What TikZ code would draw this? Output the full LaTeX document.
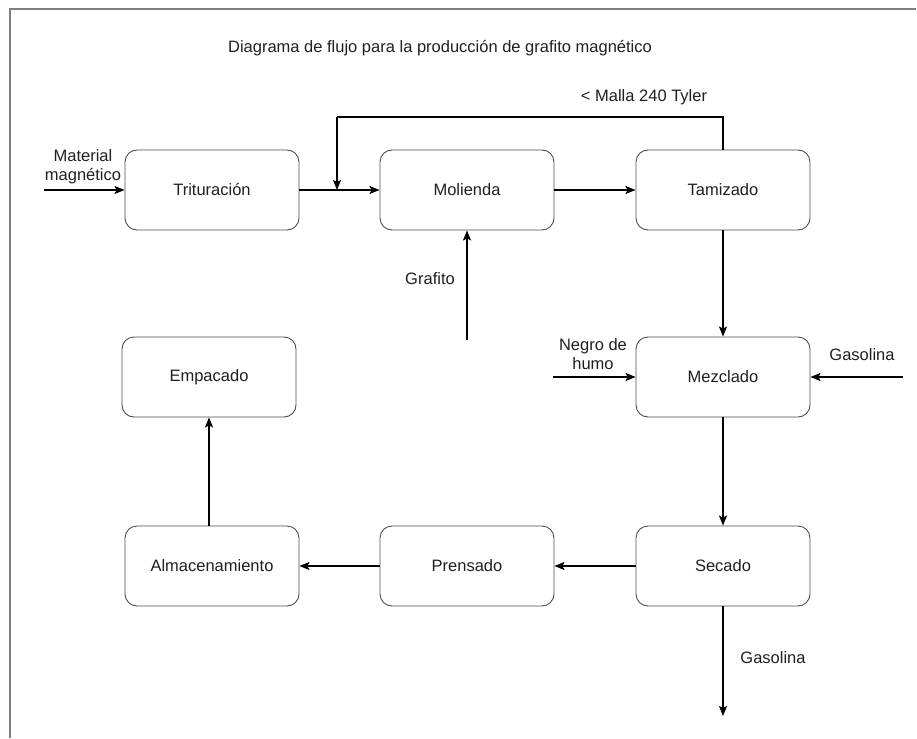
\documentclass[tikz,border=0pt]{standalone}
\usepackage{fontspec}
\setmainfont{Liberation Sans}
\usetikzlibrary{arrows.meta}
\tikzset{
    proceso/.style={
        draw=BoxLine, line width=0.9pt, rounded corners=12pt,
        minimum width=174pt, minimum height=80pt, text=TextGray
    },
    flujo/.style={
        draw=black, line width=1.3pt,
        -{Stealth[length=10pt, width=8pt, inset=2pt]}
    },
    linea/.style={draw=black, line width=1.3pt},
    etiqueta/.style={text=TextGray, align=center, inner sep=0pt},
}
\colorlet{BoxLine}{black!70}
\colorlet{FrameLine}{black!50}
\colorlet{TextGray}{black!88}

\begin{document}
\begin{tikzpicture}[x=1pt, y=-1pt, font=\fontsize{16.5}{19}\selectfont]

    \useasboundingbox (0,0) rectangle (917,738);
    \draw[FrameLine, line width=1.5pt] (10,738) -- (10,9) -- (916,9);

    \node[etiqueta] (titulo) at (440,48) {Diagrama de flujo para la producción de grafito magnético};

    \node[proceso] (trit) at (212,190) {Trituración};
    \node[proceso] (mol)  at (467,190) {Molienda};
    \node[proceso] (tam)  at (723,190) {Tamizado};
    \node[proceso] (mez)  at (723,377) {Mezclado};
    \node[proceso] (sec)  at (723,566) {Secado};
    \node[proceso] (pren) at (467,566) {Prensado};
    \node[proceso] (alm)  at (212,566) {Almacenamiento};
    \node[proceso] (emp)  at (209,377) {Empacado};

    \coordinate (matin)  at (44,190);
    \coordinate (grafin) at (467,340);
    \coordinate (negin)  at (553,377);
    \coordinate (gasin)  at (903,377);
    \coordinate (gasout) at (723,716);
    \coordinate (retA)   at (723,117);
    \coordinate (retB)   at (337,117);
    \coordinate (retC)   at (337,190);

    \draw[flujo] (matin) -- (trit);
    \draw[flujo] (trit) -- (mol);
    \draw[flujo] (mol) -- (tam);
    \draw[linea] (tam.north) -- (retA) -- (retB);
    \draw[flujo] (retB) -- (retC);
    \draw[flujo] (grafin) -- (mol);
    \draw[flujo] (tam) -- (mez);
    \draw[flujo] (negin) -- (mez);
    \draw[flujo] (gasin) -- (mez);
    \draw[flujo] (mez) -- (sec);
    \draw[flujo] (sec) -- (gasout);
    \draw[flujo] (sec) -- (pren);
    \draw[flujo] (pren) -- (alm);
    \draw[flujo] (alm.north -| emp.south) -- (emp.south);

    \node[etiqueta] (lmat)   at (83,167)  {Material\\magnético};
    \node[etiqueta] (lmalla) at (644,97)  {< Malla 240 Tyler};
    \node[etiqueta] (lgraf)  at (430,279) {Grafito};
    \node[etiqueta] (lneg)   at (593,354) {Negro de\\humo};
    \node[etiqueta] (lgasA)  at (862,355) {Gasolina};
    \node[etiqueta] (lgasB)  at (773,658) {Gasolina};

\end{tikzpicture}
\end{document}
